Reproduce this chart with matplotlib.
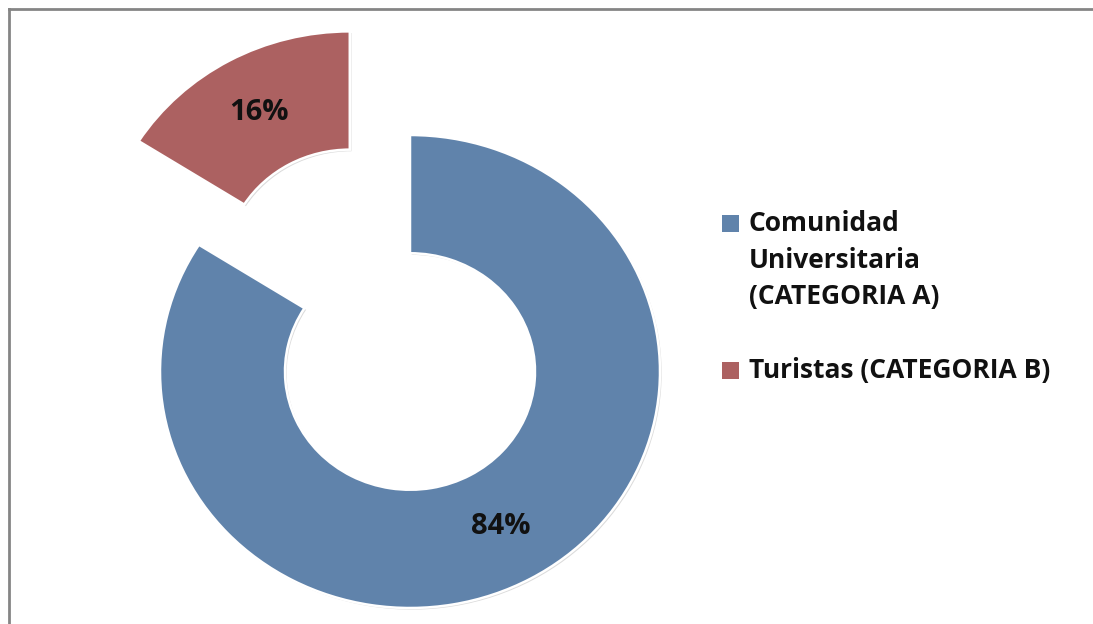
import matplotlib.pyplot as plt
import matplotlib.patheffects as pe
from matplotlib.lines import Line2D
from matplotlib.patches import Rectangle

# datos
categorias = ["Comunidad\nUniversitaria\n(CATEGORIA A)", "Turistas (CATEGORIA B)"]
porcentajes = [84, 16]
colores = ["#6083AB", "#AC6161"]
separacion = [0, 0.5]

W, H = 1093, 624
fig = plt.figure(figsize=(W / 100, H / 100), dpi=100)
fig.patch.set_facecolor("white")

# ejes en pixeles: radio horizontal ~250 px, vertical ~236 px
cx, cy = 410, H - 371.5
rx, ry = 250, 236.5
x0, x1 = -1.6, 1.6
y0, y1 = -1.1, 1.6
ax = fig.add_axes([(cx + x0 * rx) / W, (cy + y0 * ry) / H,
                   (x1 - x0) * rx / W, (y1 - y0) * ry / H])

fuente = "Open Sans"
sombra = [pe.SimplePatchShadow(offset=(1.2, -1.2), shadow_rgbFace="#999999", alpha=0.35), pe.Normal()]
wedges, textos, pcts = ax.pie(
    porcentajes, colors=colores, startangle=90, counterclock=False,
    explode=separacion, autopct="%d%%", pctdistance=0.75,
    wedgeprops=dict(width=0.5, edgecolor="white", linewidth=1.8),
    textprops=dict(fontsize=21, fontweight="bold", family=fuente, color="#111111"))
for w in wedges:
    w.set_path_effects(sombra)
ax.set_aspect("auto")
ax.set_xlim(x0, x1)
ax.set_ylim(y0, y1)
ax.axis("off")

# leyenda hecha a mano, una linea de texto a la vez
base_y = [231, 378]   # linea base de la primera linea (px desde arriba)
paso = 36.5
for cat, col, by in zip(categorias, colores, base_y):
    fig.add_artist(Rectangle((722 / W, (H - by - 1) / H), 17 / W, 17 / H,
                             transform=fig.transFigure, facecolor=col, edgecolor="none"))
    for i, linea in enumerate(cat.split("\n")):
        fig.text(749 / W, (H - by - i * paso) / H, linea, ha="left", va="baseline",
                 fontsize=19, fontweight="bold", family=fuente, color="#111111")

# marco gris (cortado a la derecha y abajo)
fig.add_artist(Line2D([9 / W, 9 / W], [0, (H - 9) / H], transform=fig.transFigure,
                      color="#858585", lw=2))
fig.add_artist(Line2D([9 / W, 1], [(H - 9) / H, (H - 9) / H], transform=fig.transFigure,
                      color="#858585", lw=2))

fig.savefig("out.png", dpi=100)
